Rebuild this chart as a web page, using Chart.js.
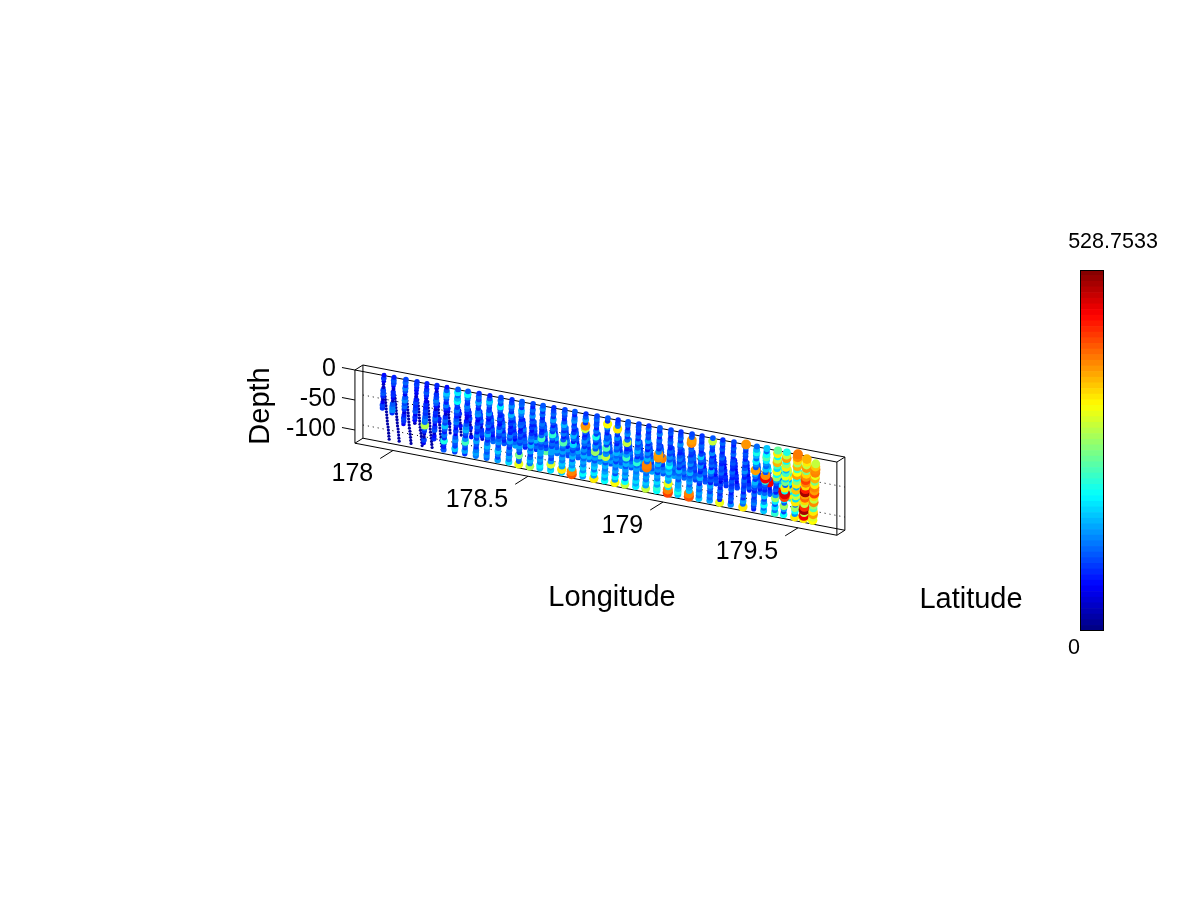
<!DOCTYPE html>
<html>
<head>
<meta charset="utf-8">
<title>Depth section</title>
<script src="https://cdn.jsdelivr.net/npm/chart.js@4"></script>
<style>
html, body { margin: 0; padding: 0; background: #fff; overflow: hidden; }
#section { position: absolute; left: 0; top: 0; }
#colorbar { position: absolute; left: 1060px; top: 230px; }
</style>
</head>
<body>
<canvas id="section" width="1200" height="900"></canvas>
<canvas id="colorbar" width="110" height="430"></canvas>
<script>
const _ = null;
const lonTicks = [178, 178.5, 179, 179.5];
const depthTicks = [0, -50, -100];
const lonRange = [177.859, 179.644];
const depthRange = [-122, 0];
const latRange = [0, 1];
const castLat = 0.5;
const colorMax = 528.7533;

// longitude of the top of each cast
const castLon = [177.952, 177.989, 178.033, 178.074, 178.111, 178.148, 178.185, 178.226, 178.263, 178.304,
    178.344, 178.385, 178.426, 178.463, 178.504, 178.541, 178.581, 178.622, 178.659, 178.700,
    178.741, 178.781, 178.819, 178.856, 178.896, 178.933, 178.974, 179.015, 179.052, 179.093,
    179.130, 179.170, 179.207, 179.248, 179.293, 179.333, 179.370, 179.411, 179.444, 179.485,
    179.519, 179.552];

const climbDepth = [-5, -10, -15, -20, -25, -30, -35, -40, -45, -50, -55, -60, -65, -70, -75, -80, -85, -90, -95, -100, -105, -110];
const climbDrift = [0, -0.001, -0.001, -0.002, -0.002, -0.003, -0.003, -0.004, -0.005, -0.005, -0.006, -0.006, -0.007, -0.008, -0.008, -0.009, -0.01, -0.01, -0.011, -0.011, -0.012, -0.012];
const diveDepth = [-35, -40, -45, -50, -55, -60, -65, -70, -75, -80, -85, -90, -95, -100, -105, -110];
const diveDrift = [0.003, 0.004, 0.005, 0.006, 0.007, 0.008, 0.009, 0.01, 0.011, 0.012, 0.013, 0.015, 0.016, 0.017, 0.018, 0.019];

const climbValues = [
    [70, 95, 60, 30, 40, 100, 110, 85, 30, 60, 100, 90],
    [80, 110, 100, 60, 40, 85, 90, 60, 30, 110, 130, 140, 90],
    [100, 120, 90, 130, 100, 60, 110, 140, 100, 120, 90, 50, 80, 100, 90, 60],
    [90, 100, 80, 70, 60, 40, 80, 100, 85, 95, 110, 60, 90, 70, 30],
    [80, 70, 90, 110, 85, 50, 60, 90, 80, 100, 90, 110, 130, 120, 290, 120, 90, 40, 30, 100, 60],
    [85, 60, 40, 90, 100, 130, 110, 70, 40, 90, 80, 120, 100, 60, 90, 110, 40, 70, 85],
    [70, 110, 170, 140, 100, 80, 130, 90, 60, 40, 90, 120, 100, 170, 110, 80, 130, 90, 210, 90, 80, 110],
    [110, 190, 120, 160, 200, 100, 90, 130, 100, 80, 110, 130, 90, 70, 100, 60, 110, 140, 110, 100, 170, 100],
    [110, 200, 140, 100, 90, 130, 110, 80, 60, 50, 80, 110, 140, 160, 110, 90, 140, 230, 120, 100, 150, 90],
    [90, 120, 100, 150, 100, 80, 130, 140, 80, 60, 90, 120, 100, 80, 130, 100, 150, 110, 90, 130, 150, 130],
    [80, 110, 170, 120, 90, 100, 140, 90, 70, 100, 120, 80, 110, 160, 120, 90, 120, 160, 130, 110, 140, 120],
    [100, 130, 100, 190, 120, 90, 80, 110, 80, 70, 100, 140, 110, 90, 120, 140, 100, 120, 170, 130, 100, 150],
    [90, 100, 140, 110, 90, 160, 120, 80, 100, 70, 90, 80, 130, 100, 150, 110, 90, 130, 110, 150, 130, 180],
    [110, 120, 90, 160, 130, 100, 80, 110, 120, 60, 80, 110, 90, 120, 100, 150, 120, 100, 260, 120, 110, 320],
    [100, 80, 120, 100, 140, 90, 110, 80, 100, 70, 90, 120, 140, 90, 160, 110, 150, 100, 120, 160, 130, 290],
    [110, 140, 90, 120, 80, 100, 130, 110, 80, 90, 120, 230, 130, 100, 110, 150, 150, 120, 150, 130, 190, 170],
    [90, 100, 120, 90, 150, 110, 80, 120, 100, 220, 130, 90, 120, 100, 150, 150, 120, 100, 140, 310, 150, 180],
    [100, 120, 100, 80, 110, 160, 120, 90, 130, 80, 110, 240, 130, 110, 150, 110, 150, 130, 170, 150, 340, 170],
    [110, 80, 120, 140, 90, 110, 80, 100, 160, 120, 80, 180, 120, 100, 130, 160, 110, 160, 140, 180, 395, 420],
    [90, 110, 150, 90, 385, 300, 120, 80, 100, 140, 120, 90, 140, 110, 160, 120, 150, 130, 170, 140, 200, 150],
    [100, 120, 100, 110, 80, 130, 100, 210, 120, 90, 140, 110, 280, 120, 150, 110, 150, 170, 130, 190, 150, 340],
    [110, 90, 330, 140, 100, 80, 120, 110, 150, 100, 240, 120, 140, 300, 150, 110, 160, 130, 150, 180, 150, 200],
    [90, 100, 120, 340, 110, 90, 140, 100, 80, 130, 110, 160, 120, 140, 100, 150, 120, 150, 110, 190, 150, 330],
    [110, 120, 80, 110, 140, 90, 120, 300, 100, 80, 110, 150, 230, 120, 160, 110, 150, 130, 160, 120, 200, 300],
    [100, 110, 100, 80, 120, 90, 140, 100, 120, 160, 120, 90, 140, 220, 120, 150, 130, 150, 140, 180, 150, 190],
    [90, 120, 90, 110, 100, 150, 90, 120, 80, 140, 110, 160, 120, 395, 400, 140, 120, 150, 130, 170, 150, 300],
    [110, 90, 130, 80, 120, 100, 110, 90, 140, 380, 385, 110, 160, 120, 140, 100, 150, 130, 180, 150, 220, 200],
    [100, 110, 80, 100, 120, 90, 80, 120, 100, 140, 110, 160, 200, 150, 170, 130, 170, 150, 320, 190, 395, 430],
    [90, 100, 120, 90, 140, 110, 90, 80, 110, 130, 100, 120, 90, 160, 120, 140, 110, 150, 150, 170, 210, 170],
    [100, 110, 380, 390, 80, 120, 100, 90, 120, 110, 140, 100, 120, 160, 110, 130, 150, 120, 150, 170, 395, 420],
    [90, 100, 90, 120, 110, 80, 100, 170, 120, 90, 140, 100, 80, 120, 160, 110, 90, 140, 120, 150, 130, 170],
    [110, 300, 120, 100, 90, 140, 80, 110, 100, 120, 80, 160, 120, 90, 110, 80, 150, 120, 100, 140, 120, 150],
    [90, 120, 90, 110, 80, 100, 120, 90, 80, 110, 100, 120, 90, 80, 60, 100, 80, 120, 90, 110, 80, 320],
    [100, 80, 110, 90, 120, 80, 100, 110, 90, 80, 120, 100, 80, 110, 90, 100, 120, 80, 100, 110, 90, 140],
    [385, 120, 90, 110, 100, 80, 120, 90, 110, 140, 100, 80, 120, 100, 90, 110, 80, 120, 90, 150, 120, 340],
    [120, 160, 210, 160, 120, 190, 140, 110, 380, 160, 120, 90, 160, 130, 100, 80, 120, 90, 110, 130, 100, 80],
    [170, 120, 200, 240, 190, 140, 120, 170, 110, 390, 470, 220, 120, 100, 80, 120, 170, 100, 140, 200, 120, 170],
    [250, 340, 200, 300, 370, 230, 180, 320, 200, 280, 150, 110, 90, 110, 80, 150, 280, 190, 110, 180, 130, 220],
    [210, 300, 380, 200, 280, 340, 160, 230, 320, 180, 260, 120, 340, 200, 480, 430, 180, 110, 280, 150, 100, 200],
    [400, 390, 350, 280, 370, 230, 330, 380, 200, 270, 340, 160, 360, 210, 300, 180, 340, 120, 280, 200, 140, 340],
    [_, 370, 340, 300, 385, 260, 350, 390, 430, 395, 350, 450, 510, 380, 410, 350, 300, 440, 510, 300, 470, 340],
    [_, _, 300, 360, 390, 395, 320, 370, 260, 340, 395, 380, 430, 350, 300, 390, 280, 240, 340, 380, 310, 330]
];

const diveValues = [
    [20, 20, 20, 20, 20, 20, 20, 20, 20, 20, 20, 20, 20, 20, 20, 20],
    [20, 20, 20, 24, 20, 20, 20, 20, 24, 20, 20, 20, 20, 20, 20, 20],
    [24, 20, 20, 20, 20, 24, 20, 20, 20, 20, 20, 20, 20, 20, 20, 20],
    [20, 20, 24, 20, 20, 20, 20, 20, 20, 20, 24, 20, 20, 20, 20, 20],
    [24, 24, 20, 20, 20, 20, 20, 24, 20, 20, 20, 20, 20, 20, 20, 20],
    [60, 40, 20, 20, 20, 80, 50, 20, 20, 20, 20, 20, 40, 20, 20, 20],
    [20, 80, 50, 20, 20, 20, 50, 20, 20, 20],
    [20, 60, 90, 30, 20, 20, 70, 24, 20, 20],
    [50, 90, 70, 100, 40, 24, 80, 24, 20, 70],
    [80, 110, 90, 120, 80, 30, 90, 100, 80, 40],
    [70, 90, 120, 100, 80, 110, 90, 70, 100, 120],
    [100, 80, 110, 130, 100, 80, 120, 100, 80, 110],
    [110, 90, 120, 100, 80, 110, 90, 70, 120, 150],
    [80, 110, 90, 130, 100, 80, 110, 120, 100, 80],
    [110, 80, 120, 100, 80, 110, 160, 100, 120, 90],
    [90, 120, 100, 140, 100, 80, 120, 90, 110, 250],
    [100, 110, 80, 120, 150, 90, 120, 110, 150, 120],
    [120, 90, 110, 100, 130, 110, 80, 140, 110, 100],
    [100, 120, 90, 110, 80, 120, 100, 150, 120, 110],
    [90, 110, 130, 100, 120, 90, 110, 110, 160, 120],
    [110, 90, 110, 120, 100, 130, 110, 250, 120, 150],
    [100, 120, 90, 110, 110, 100, 140, 120, 150, 110],
    [90, 110, 120, 100, 90, 140, 110, 120, 110, 150],
    [120, 100, 110, 90, 130, 110, 100, 120, 150, 110],
    [100, 120, 90, 110, 110, 100, 150, 110, 130, 120],
    [110, 90, 120, 100, 110, 140, 90, 120, 110, 150],
    [90, 120, 100, 110, 395, 110, 90, 120, 140, 110],
    [100, 110, 90, 120, 100, 110, 130, 110, 120, 150],
    [110, 90, 110, 100, 120, 90, 110, 130, 100, 120],
    [90, 110, 120, 90, 100, 110, 90, 110, 120, 100],
    [100, 80, 110, 90, 70, 110, 120, 90, 100, 110],
    [90, 70, 90, 110, 80, 90, 70, 100, 110, 90],
    [80, 90, 70, 60, 90, 70, 90, 80, 100, 90],
    [70, 90, 80, 60, 70, 90, 80, 60, 90, 100],
    [90, 80, 70, 90, 60, 80, 70, 90, 110, 80],
    [110, 120, 90, 80, 90, 110, 90, 100, 80, 120],
    [150, 200, 120, 90, 110, 470, 90, 70, 90, 110],
    [220, 150, 190, 120, 160, 200, 470, 450, 150, 120],
    [300, 230, 340, 150, 200, 120, 280, 180, 340, 210],
    [170, 280, 200, 340, 180, 270, 120, 340, 180, 230, 300, 150, 340, 190, 130, 320],
    [370, 300, 440, 390, 280, 190, 340, 230, 300, 160, 280, 180, 240, 170, 330, 300],
    [_, _, _, _, _, _, _, _, _, _, _, _, _, _, _, _]
];

function jetColor(value) {
    const f = value / colorMax;
    const part = c => Math.round(255 * Math.min(1, Math.max(0, 1.5 - Math.abs(4 * f - c))));
    return `rgb(${part(3)},${part(2)},${part(1)})`;
}

// marker area grows with the value, as in the original scatter
function markerRadius(value) {
    return 0.6 + 0.22 * Math.sqrt(value);
}

// oblique view: x and y of the flat chart from longitude, latitude and depth
function project(lon, lat, depth) {
    return {
        x: lon + lat * 8 / 270,
        y: depth - 85.95 * (lon - lonRange[0]) + lat * 8.33
    };
}

function edge(a, b, dash) {
    return {
        type: 'scatter',
        showLine: true,
        data: [project(...a), project(...b)],
        borderColor: '#000',
        borderWidth: 1,
        borderDash: dash || [],
        pointRadius: 0,
        order: 1
    };
}

// deep points first so the shallower ones sit on top of them
function buildCastPoints() {
    const points = [];
    castLon.forEach((lon, i) => {
        for (let k = diveDepth.length - 1; k >= 0; k--) {
            const v = diveValues[i][k];
            if (v == null) continue;
            points.push({ ...project(lon + diveDrift[k], castLat, diveDepth[k]), v: v });
        }
        for (let k = climbDepth.length - 1; k >= 0; k--) {
            const v = climbValues[i][k];
            if (v == null) continue;
            points.push({ ...project(lon + climbDrift[k], castLat, climbDepth[k]), v: v });
        }
    });
    return points;
}

function buildBoxEdges() {
    const [l0, l1] = lonRange;
    const [d0, d1] = depthRange;
    const [a0, a1] = latRange;
    const edges = [];
    [a0, a1].forEach(a => {
        edges.push(edge([l0, a, d1], [l1, a, d1]));
        edges.push(edge([l0, a, d0], [l1, a, d0]));
        edges.push(edge([l0, a, d0], [l0, a, d1]));
        edges.push(edge([l1, a, d0], [l1, a, d1]));
    });
    [[l0, d0], [l0, d1], [l1, d0], [l1, d1]].forEach(c => {
        edges.push(edge([c[0], a0, c[1]], [c[0], a1, c[1]]));
    });
    depthTicks.forEach(d => {
        edges.push(edge([l0 - 0.048, a0, d], [l0, a0, d]));
        if (d !== 0) edges.push(edge([l0, a1, d], [l1, a1, d], [1, 4]));
    });
    lonTicks.forEach(l => {
        edges.push(edge([l, a0 - 1.6, d0], [l, a0, d0]));
    });
    return edges;
}

const sectionLabels = {
    id: 'sectionLabels',
    afterDraw(chart) {
        const ctx = chart.ctx;
        const sx = chart.scales.x;
        const sy = chart.scales.y;
        const at = (lon, lat, depth) => {
            const p = project(lon, lat, depth);
            return { x: sx.getPixelForValue(p.x), y: sy.getPixelForValue(p.y) };
        };
        ctx.save();
        ctx.fillStyle = '#000';
        ctx.textBaseline = 'middle';
        ctx.font = '25px "Liberation Sans"';
        ctx.textAlign = 'right';
        depthTicks.forEach(d => {
            const p = at(lonRange[0] - 0.048, latRange[0], d);
            ctx.fillText(String(d), p.x - 6, p.y + 1.5);
        });
        lonTicks.forEach(l => {
            const p = at(l, latRange[0] - 1.6, depthRange[0]);
            ctx.fillText(String(l), p.x - 7, p.y + 16);
        });
        ctx.font = '29px "Liberation Sans"';
        ctx.textAlign = 'center';
        ctx.fillText('Longitude', 612, 598);
        ctx.fillText('Latitude', 971, 600);
        ctx.translate(261, 406);
        ctx.rotate(-Math.PI / 2);
        ctx.fillText('Depth', 0, 0);
        ctx.restore();
    }
};

new Chart(document.getElementById('section').getContext('2d'), {
    type: 'scatter',
    data: {
        datasets: [{
            data: buildCastPoints(),
            pointRadius: c => c.raw ? markerRadius(c.raw.v) : 0,
            pointBackgroundColor: c => c.raw ? jetColor(c.raw.v) : '#000',
            pointBorderWidth: 0,
            order: 0
        }].concat(buildBoxEdges())
    },
    options: {
        responsive: false,
        animation: false,
        layout: { padding: 0, autoPadding: false },
        plugins: { legend: { display: false }, tooltip: { enabled: false } },
        scales: {
            x: { type: 'linear', display: false, min: 176.5444, max: 180.9889 },
            y: { type: 'linear', display: false, min: -883.33, max: 616.67 }
        }
    },
    plugins: [sectionLabels]
});

// colour bar
const colorSteps = [];
for (let i = 0; i < 64; i++) colorSteps.push(colorMax / 64);

const colorbarFrame = {
    id: 'colorbarFrame',
    afterDraw(chart) {
        const ctx = chart.ctx;
        const a = chart.chartArea;
        const sy = chart.scales.y;
        ctx.save();
        ctx.strokeStyle = '#000';
        ctx.lineWidth = 1;
        ctx.strokeRect(a.left + 0.5, a.top + 0.5, a.width - 1, a.height - 1);
        ctx.fillStyle = '#000';
        ctx.font = '21.5px "Liberation Sans"';
        ctx.textBaseline = 'middle';
        ctx.textAlign = 'center';
        ctx.fillText('528.7533', a.left + 33, sy.getPixelForValue(colorMax) - 28);
        ctx.fillText('0', a.left - 6, sy.getPixelForValue(0) + 17);
        ctx.restore();
    }
};

new Chart(document.getElementById('colorbar').getContext('2d'), {
    type: 'bar',
    data: {
        labels: ['Latitude'],
        datasets: colorSteps.map((step, i) => ({
            data: [step],
            backgroundColor: jetColor((i + 0.5) * colorMax / 64),
            borderWidth: 0,
            barPercentage: 1,
            categoryPercentage: 1
        }))
    },
    options: {
        responsive: false,
        animation: false,
        layout: { padding: { left: 20, right: 66, top: 40, bottom: 29 }, autoPadding: false },
        plugins: { legend: { display: false }, tooltip: { enabled: false } },
        scales: {
            x: { stacked: true, display: false },
            y: { stacked: true, display: false, min: 0, max: colorMax }
        }
    },
    plugins: [colorbarFrame]
});
</script>
</body>
</html>
